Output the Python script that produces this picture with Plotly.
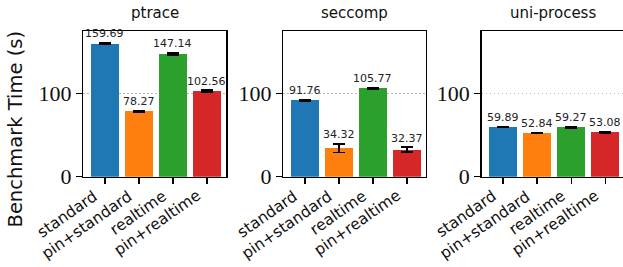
import plotly.graph_objects as go

panels = ["ptrace", "seccomp", "uni-process"]
configs = ["standard", "pin+standard", "realtime", "pin+realtime"]
colors = ["#1f77b4", "#ff7f0e", "#2ca02c", "#d62728"]

ptrace_vals = [159.69, 78.27, 147.14, 102.56]
ptrace_err = [0.8, 0.6, 1.2, 1.2]
seccomp_vals = [91.76, 34.32, 105.77, 32.37]
seccomp_err = [0.8, 5.0, 0.6, 3.0]
uni_vals = [59.89, 52.84, 59.27, 53.08]
uni_err = [0.5, 0.4, 1.0, 0.6]

values = [ptrace_vals, seccomp_vals, uni_vals]
errors = [ptrace_err, seccomp_err, uni_err]
yticks = [0, 100]

W, H = 623, 267
dom_px = [(83.3, 226.0), (283.3, 425.7), (481.7, 623.0)]
unit = 34.07
top_px, bot_px = 31.0, 176.7
ymax = 174.7

fig = go.Figure()
pos = list(range(len(configs)))
for i, (vals, errs) in enumerate(zip(values, errors)):
    ax = "" if i == 0 else str(i + 1)
    fig.add_trace(go.Bar(
        x=pos, y=vals, width=0.82,
        marker=dict(color=colors, line=dict(width=0)),
        error_y=dict(type="data", array=errs, visible=True,
                     color="black", thickness=1.5, width=6),
        xaxis="x" + ax, yaxis="y" + ax, showlegend=False, hoverinfo="skip",
    ))
    for p, v, e in zip(pos, vals, errs):
        fig.add_annotation(
            x=p, y=v + e, xref="x" + ax, yref="y" + ax,
            text=f"{v:.2f}", showarrow=False, xanchor="center",
            yanchor="bottom",
            font=dict(family="DejaVu Sans", size=11, color="#222"),
            borderpad=0, yshift=1.5,
        )
    l, r = dom_px[i]
    # category tick labels, rotated, right/top anchored at each tick
    for p, lab in zip(pos, configs):
        fig.add_annotation(
            x=p, y=1 - bot_px / H, xref="x" + ax, yref="paper",
            text=lab, showarrow=False, textangle=-35,
            xanchor="right", yanchor="top", xshift=-2, yshift=-9,
            borderpad=0,
            font=dict(family="DejaVu Sans", size=15.5, color="#111"),
        )
    cx = (l + r) / 2 if i < 2 else (l + l + 143) / 2
    fig.add_annotation(
        x=cx / W, y=1 - 13 / H, xref="paper", yref="paper",
        text=panels[i], showarrow=False, xanchor="center", yanchor="middle",
        font=dict(family="DejaVu Sans", size=15, color="#111"),
    )
    x0 = -0.63
    x1 = x0 + (r - l) / unit
    common_line = dict(showline=True, linecolor="black", linewidth=1.5)
    fig.update_layout(**{
        "xaxis" + ax: dict(
            domain=[l / W, r / W], range=[x0, x1], anchor="y" + ax,
            tickmode="array", tickvals=pos, showticklabels=False,
            ticks="outside", ticklen=6, tickwidth=1.5,
            tickcolor="black", mirror=True, showgrid=False, zeroline=False,
            automargin=False, fixedrange=True,
            **common_line,
        ),
        "yaxis" + ax: dict(
            domain=[1 - bot_px / H, 1 - top_px / H], range=[0, ymax],
            anchor="x" + ax, tickmode="array", tickvals=yticks,
            ticktext=[str(t) for t in yticks],
            ticks="outside", ticklen=6, tickwidth=1.5, tickcolor="black",
            mirror=(i < 2), showgrid=True, gridcolor="#b8b8b8",
            griddash="1.5px,2.5px", gridwidth=1.2, zeroline=False,
            automargin=False, fixedrange=True,
            tickfont=dict(family="Liberation Serif", size=22, color="#111"),
            **common_line,
        ),
    })

fig.add_annotation(
    x=14.5 / W, y=1 - 129 / H, xref="paper", yref="paper",
    text="Benchmark Time (s)", showarrow=False, textangle=-90,
    font=dict(family="DejaVu Sans", size=19.5, color="#111"),
    xanchor="center", yanchor="middle",
)

fig.update_layout(
    width=W, height=H, margin=dict(l=0, r=0, t=0, b=0),
    paper_bgcolor="white", plot_bgcolor="white", bargap=0,
)

fig.write_html(
    "out.html",
    config={"displayModeBar": False, "staticPlot": True},
    post_script="document.body.style.margin='0';document.body.style.overflow='hidden';",
)
